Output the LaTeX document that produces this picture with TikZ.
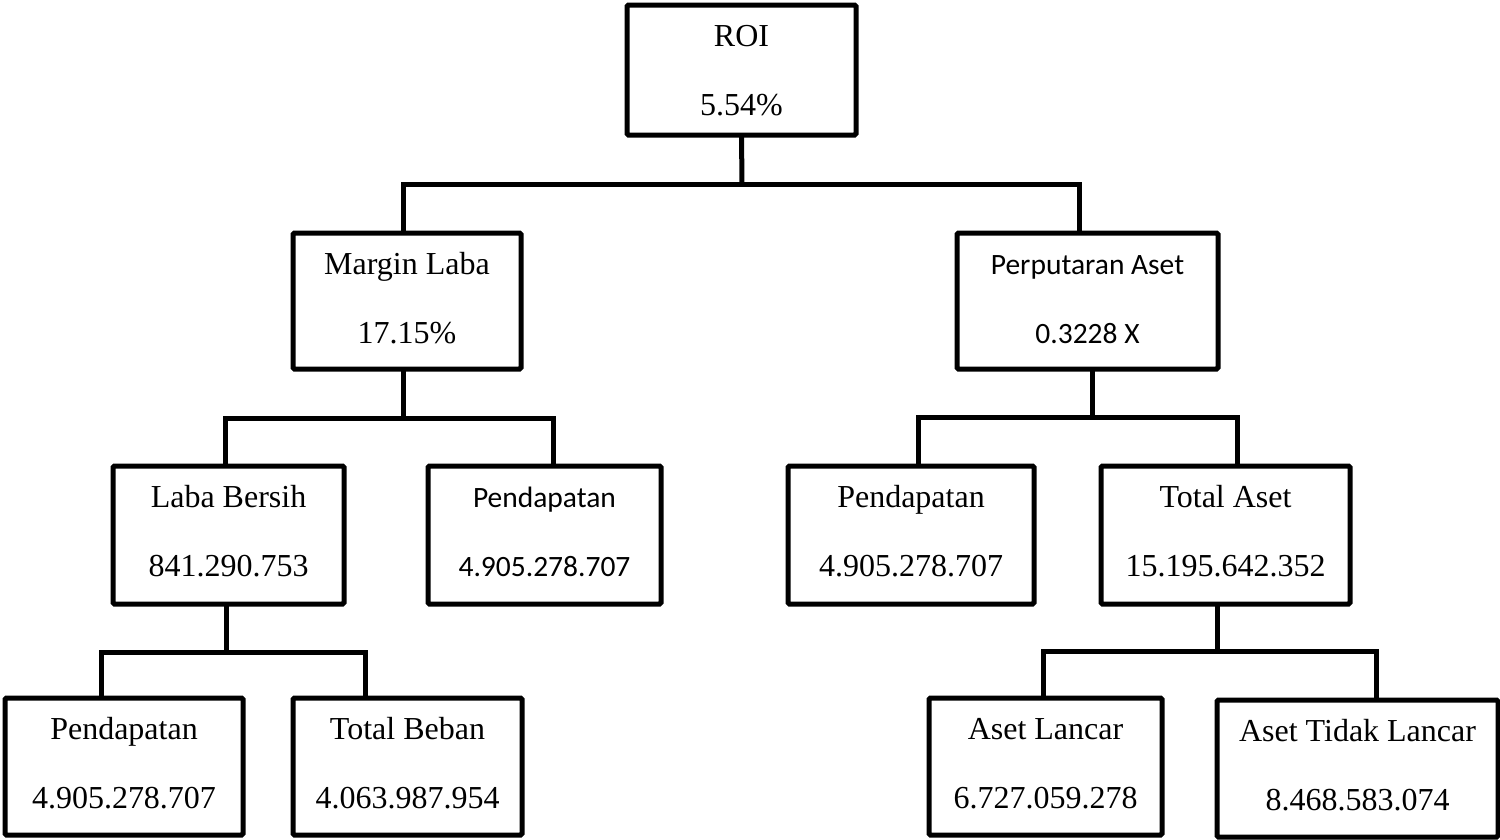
\documentclass[tikz,border=0pt]{standalone}
\usepackage{fontspec}
\setmainfont{Liberation Serif}
\newfontfamily\calib{Carlito}
\newcommand\boxtext[4]{%
  \node[#2,anchor=base] (#1-a) at ([yshift=-41pt]#1.north) {#3};
  \node[#2,anchor=base] (#1-b) at ([yshift=-110pt]#1.north) {#4};}
\begin{document}
\begin{tikzpicture}[x=1pt,y=-1pt,
  box/.style={draw, line width=5pt, rounded corners=1.5pt, inner sep=0pt, outer sep=0pt},
  conn/.style={line width=5pt, line join=miter},
  serif/.style={font=\fontsize{32}{36}\selectfont, inner sep=0pt},
  sans/.style={font=\calib\fontsize{29.5}{34}\selectfont, inner sep=0pt}]
\useasboundingbox (0,0) rectangle (1500,839);
% level 1
\node[box, minimum width=229pt, minimum height=130pt] (roi) at (741.5,70) {};
% level 2
\node[box, minimum width=228pt, minimum height=136pt] (ml) at (407,301) {};
\node[box, minimum width=261pt, minimum height=136pt] (pa) at (1087.5,301) {};
% level 3
\node[box, minimum width=231pt, minimum height=138pt] (lb) at (228.5,535) {};
\node[box, minimum width=233pt, minimum height=138pt] (pd1) at (544.5,535) {};
\node[box, minimum width=246pt, minimum height=138pt] (pd2) at (911,535) {};
\node[box, minimum width=249pt, minimum height=138pt] (ta) at (1225.5,535) {};
% level 4
\node[box, minimum width=238pt, minimum height=137pt] (pd3) at (124,766.5) {};
\node[box, minimum width=229pt, minimum height=137pt] (tb) at (407.5,766.5) {};
\node[box, minimum width=233pt, minimum height=137pt] (al) at (1045.5,766.5) {};
\node[box, minimum width=281pt, minimum height=137pt] (atl) at (1357.5,768.5) {};
% texts
\boxtext{roi}{serif}{ROI}{5.54\%}
\boxtext{ml}{serif}{Margin Laba}{17.15\%}
\boxtext{pa}{sans}{Perputaran Aset}{0.3228 X}
\boxtext{lb}{serif}{Laba Bersih}{841.290.753}
\boxtext{pd1}{sans}{Pendapatan}{4.905.278.707}
\boxtext{pd2}{serif}{Pendapatan}{4.905.278.707}
\boxtext{ta}{serif}{Total Aset}{15.195.642.352}
\boxtext{pd3}{serif}{Pendapatan}{4.905.278.707}
\boxtext{tb}{serif}{Total Beban}{4.063.987.954}
\boxtext{al}{serif}{Aset Lancar}{6.727.059.278}
\boxtext{atl}{serif}{Aset Tidak Lancar}{8.468.583.074}
% connectors
\coordinate (b1) at (742,184);
\draw[conn] (roi.south) -- (b1);
\draw[conn] ([xshift=-4pt]ml.north) |- (b1) -| ([xshift=-8.5pt]pa.north);
\coordinate (b2) at (403,418);
\draw[conn] ([xshift=-4pt]ml.south) -- (b2);
\draw[conn] ([xshift=-3.5pt]lb.north) |- (b2) -| ([xshift=8.5pt]pd1.north);
\coordinate (b3) at (1092,417);
\draw[conn] ([xshift=4.5pt]pa.south) -- (b3);
\draw[conn] ([xshift=7pt]pd2.north) |- (b3) -| ([xshift=11.5pt]ta.north);
\coordinate (b4) at (226,652);
\draw[conn] ([xshift=-2.5pt]lb.south) -- (b4);
\draw[conn] ([xshift=-23pt]pd3.north) |- (b4) -| ([xshift=-42.5pt]tb.north);
\coordinate (b5) at (1217,651);
\draw[conn] ([xshift=-8.5pt]ta.south) -- (b5);
\draw[conn] ([xshift=-2.5pt]al.north) |- (b5) -| ([xshift=18.5pt]atl.north);
\end{tikzpicture}
\end{document}
